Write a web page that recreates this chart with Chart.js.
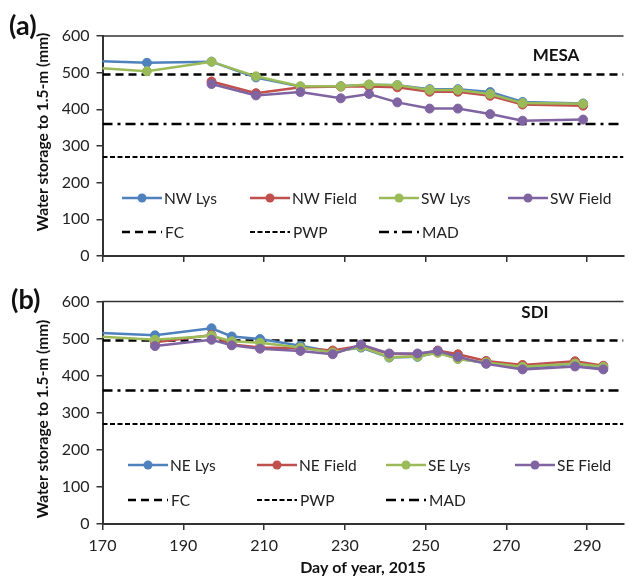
<!DOCTYPE html>
<html>
<head>
<meta charset="utf-8">
<script src="https://cdn.jsdelivr.net/npm/chart.js@4.4.1/dist/chart.umd.min.js"></script>
<style>
  html, body { margin: 0; padding: 0; background: #fff; overflow: hidden; }
  #wrap { position: relative; width: 629px; height: 577px; }
  canvas { position: absolute; left: 0; }
</style>
</head>
<body>
<div id="wrap">
  <canvas id="mesaChart" width="629" height="285" style="top:0"></canvas>
  <canvas id="sdiChart" width="629" height="292" style="top:285px"></canvas>
</div>
<script>
// ---- data ----
const xTicks = [170, 190, 210, 230, 250, 270, 290];
const yTicks = [0, 100, 200, 300, 400, 500, 600];
const xMin = 170;
const xMax = 299;

const fcLevel = 495;
const madLevel = 360;
const pwpLevel = 270;

// (a) MESA
const mesaLysDays = [167, 181, 197, 208, 219, 229, 236, 243, 251, 258, 266, 274, 289];
const mesaFieldDays = [197, 208, 219, 229, 236, 243, 251, 258, 266, 274, 289];
const mesaNwLys = [532, 527, 530, 487, 462, 463, 467, 466, 455, 455, 447, 420, 416];
const mesaSwLys = [514, 504, 530, 490, 463, 463, 468, 466, 453, 453, 442, 417, 415];
const mesaNwField = [476, 444, 460, 462, 462, 460, 448, 448, 437, 413, 410];
const mesaSwField = [469, 438, 447, 430, 442, 419, 402, 402, 387, 369, 372];

// (b) SDI
const sdiLysDays = [167, 183, 197, 202, 209, 219, 227, 234, 241, 248, 253, 258, 265, 274, 287, 294];
const sdiFieldDays = [183, 197, 202, 209, 219, 227, 234, 241, 248, 253, 258, 265, 274, 287, 294];
const sdiNeLys = [517, 509, 528, 506, 499, 481, 465, 476, 449, 451, 463, 446, 434, 421, 432, 421];
const sdiSeLys = [507, 497, 508, 493, 489, 476, 463, 478, 450, 452, 462, 445, 436, 424, 433, 424];
const sdiNeField = [490, 510, 484, 476, 474, 468, 481, 459, 458, 468, 458, 440, 429, 439, 427];
const sdiSeField = [480, 497, 482, 473, 467, 458, 484, 460, 460, 467, 451, 432, 417, 425, 417];

const yTitle = "Water storage to 1.5-m (mm)";
const xTitle = "Day of year, 2015";

const BLUE = "#4F81BD", RED = "#C0504D", GREEN = "#9BBB59", PURPLE = "#8064A2";
const AXIS = "#333";
const FONT = "Lato";

function pts(days, vals) {
  return days.map((d, i) => ({ x: d, y: vals[i] }));
}

function series(label, days, vals, color, order) {
  return {
    label: label,
    data: pts(days, vals),
    borderColor: color,
    backgroundColor: color,
    pointBackgroundColor: color,
    pointBorderColor: color,
    borderWidth: 2.5,
    pointRadius: 4.5,
    pointBorderWidth: 1,
    tension: 0,
    order: order,
    clip: { left: 0, right: false, top: false, bottom: false },
  };
}

function refLine(label, level, dash, width) {
  return {
    label: label,
    data: [{ x: xMin, y: level }, { x: xMax, y: level }],
    borderColor: "#000",
    backgroundColor: "#000",
    borderWidth: width,
    borderDash: dash,
    pointRadius: 0,
    order: 20,
  };
}

// draws top frame line, panel tag, site label, y title and the in-plot legend
const panelDecor = {
  id: "panelDecor",
  afterDraw(chart, args, o) {
    const { ctx, chartArea: a } = chart;
    ctx.save();
    ctx.strokeStyle = AXIS;
    ctx.lineWidth = 1.5;
    ctx.beginPath();
    ctx.moveTo(a.left, a.top);
    ctx.lineTo(a.right, a.top);
    ctx.stroke();

    ctx.fillStyle = "#111";
    ctx.textBaseline = "middle";
    ctx.textAlign = "left";
    ctx.font = "bold 27px " + FONT;
    ctx.fillText(o.tag, o.tagX, o.tagY);

    ctx.textAlign = "center";
    ctx.font = "bold 17px " + FONT;
    ctx.fillText(o.site, o.siteX, o.siteY);

    ctx.save();
    ctx.translate(o.titleX, o.titleY);
    ctx.rotate(-Math.PI / 2);
    ctx.font = "bold 15.5px " + FONT;
    ctx.fillText(yTitle, 0, 0);
    ctx.restore();

    // legend
    ctx.font = "15.5px " + FONT;
    ctx.textAlign = "left";
    chart.data.datasets.forEach((ds, i) => {
      const row = i < 4 ? 0 : 1;
      const col = i < 4 ? i : i - 4;
      const x = o.legendCols[col];
      const y = a.bottom - o.legendRows[row];
      ctx.strokeStyle = ds.borderColor;
      ctx.lineWidth = ds.borderWidth;
      ctx.setLineDash(ds.borderDash || []);
      ctx.beginPath();
      ctx.moveTo(x, y);
      ctx.lineTo(x + 40, y);
      ctx.stroke();
      ctx.setLineDash([]);
      if (ds.pointRadius > 0) {
        ctx.fillStyle = ds.backgroundColor;
        ctx.beginPath();
        ctx.arc(x + 20, y, 4.5, 0, Math.PI * 2);
        ctx.fill();
      }
      ctx.fillStyle = "#222";
      ctx.fillText(ds.label, x + (row === 0 ? 42 : 43), y + 1);
    });
    ctx.restore();
  },
};

function makePanel(id, datasets, deco, padTop, xAxisHeight, showX) {
  return new Chart(document.getElementById(id), {
    type: "line",
    data: { datasets: datasets },
    options: {
      responsive: false,
      animation: false,
      events: [],
      layout: { padding: { top: padTop, right: 0, bottom: 0, left: 0 } },
      plugins: { legend: { display: false }, tooltip: { enabled: false }, panelDecor: deco },
      scales: {
        x: {
          type: "linear",
          min: xMin,
          max: xMax,
          afterBuildTicks: (s) => { s.ticks = xTicks.map((v) => ({ value: v })); },
          afterFit: (s) => { s.height = xAxisHeight; },
          ticks: { display: showX, color: "#222", font: { family: FONT, size: 16 }, padding: 6 },
          grid: { drawOnChartArea: false, tickLength: 6, color: AXIS, lineWidth: 1.5 },
          border: { color: AXIS, width: 2 },
          title: {
            display: showX,
            text: xTitle,
            color: "#111",
            font: { family: FONT, size: 16, weight: "bold" },
            padding: { top: 0, bottom: 0 },
          },
        },
        y: {
          min: 0,
          max: 600,
          afterBuildTicks: (s) => { s.ticks = yTicks.map((v) => ({ value: v })); },
          afterFit: (s) => { s.width = 102.5; },
          ticks: { color: "#222", font: { family: FONT, size: 16 }, padding: 7 },
          grid: { drawOnChartArea: false, tickLength: 6, color: AXIS, lineWidth: 1.5 },
          border: { color: AXIS, width: 2 },
        },
      },
    },
    plugins: [panelDecor],
  });
}

makePanel("mesaChart", [
  series("NW Lys", mesaLysDays, mesaNwLys, BLUE, 4),
  series("NW Field", mesaFieldDays, mesaNwField, RED, 3),
  series("SW Lys", mesaLysDays, mesaSwLys, GREEN, 2),
  series("SW Field", mesaFieldDays, mesaSwField, PURPLE, 1),
  refLine("FC", fcLevel, [8, 5], 2.5),
  refLine("PWP", pwpLevel, [5, 2.5], 2),
  refLine("MAD", madLevel, [10, 5, 3, 5], 2.5),
], {
  tag: "(a)", tagX: 9, tagY: 26,
  site: "MESA", siteX: 556, siteY: 56,
  titleX: 43, titleY: 132,
  legendCols: [122, 250, 379, 508], legendRows: [58, 24],
}, 36, 29, false);

makePanel("sdiChart", [
  series("NE Lys", sdiLysDays, sdiNeLys, BLUE, 4),
  series("NE Field", sdiFieldDays, sdiNeField, RED, 3),
  series("SE Lys", sdiLysDays, sdiSeLys, GREEN, 2),
  series("SE Field", sdiFieldDays, sdiSeField, PURPLE, 1),
  refLine("FC", fcLevel, [8, 5], 2.5),
  refLine("PWP", pwpLevel, [5, 2.5], 2),
  refLine("MAD", madLevel, [10, 5, 3, 5], 2.5),
], {
  tag: "(b)", tagX: 11, tagY: 15,
  site: "SDI", siteX: 535, siteY: 28,
  titleX: 43, titleY: 134,
  legendCols: [128, 257, 386, 515], legendRows: [59, 24],
}, 11, 53, true);
</script>
</body>
</html>
